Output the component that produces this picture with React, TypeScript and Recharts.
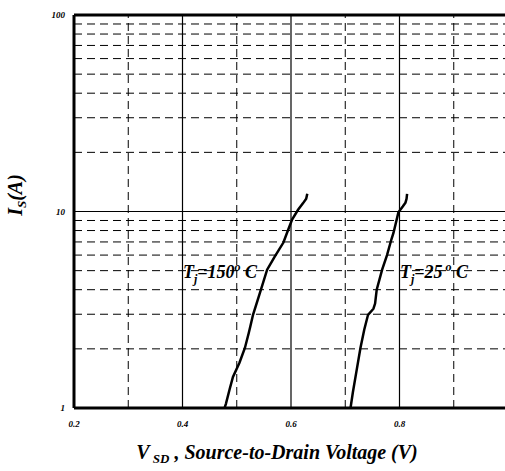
import React from 'react';
import { LineChart, Line, XAxis, YAxis, ReferenceLine } from 'recharts';

// Tj = 150 C curve (V, A)
const hotCurve = [
    { v: 0.476, i: 0.97 },
    { v: 0.48, i: 1.05 },
    { v: 0.487, i: 1.25 },
    { v: 0.493, i: 1.44 },
    { v: 0.505, i: 1.7 },
    { v: 0.515, i: 2.02 },
    { v: 0.522, i: 2.4 },
    { v: 0.525, i: 2.6 },
    { v: 0.53, i: 2.98 },
    { v: 0.542, i: 3.8 },
    { v: 0.556, i: 5.06 },
    { v: 0.57, i: 5.9 },
    { v: 0.586, i: 6.95 },
    { v: 0.595, i: 8.1 },
    { v: 0.602, i: 9.1 },
    { v: 0.613, i: 10.2 },
    { v: 0.622, i: 11.0 },
    { v: 0.628, i: 11.6 },
    { v: 0.63, i: 12.3 },
];

// Tj = 25 C curve (V, A)
const coldCurve = [
    { v: 0.709, i: 0.97 },
    { v: 0.714, i: 1.2 },
    { v: 0.72, i: 1.5 },
    { v: 0.728, i: 2.02 },
    { v: 0.735, i: 2.5 },
    { v: 0.742, i: 2.98 },
    { v: 0.752, i: 3.2 },
    { v: 0.755, i: 3.4 },
    { v: 0.758, i: 4.0 },
    { v: 0.768, i: 5.06 },
    { v: 0.777, i: 6.0 },
    { v: 0.785, i: 7.2 },
    { v: 0.789, i: 7.8 },
    { v: 0.798, i: 9.9 },
    { v: 0.806, i: 10.6 },
    { v: 0.811, i: 11.1 },
    { v: 0.813, i: 11.6 },
    { v: 0.814, i: 12.3 },
];

const xTicks = [0.2, 0.4, 0.6, 0.8];
const yTicks = [1, 10, 100];
const xDashed = [0.3, 0.5, 0.7, 0.9];
const xSolid = [0.4, 0.6, 0.8];
const yDashed = [2, 3, 4, 5, 6, 7, 8, 9, 20, 30, 40, 50, 60, 70, 80, 90];
const ySolid = [10];

const FONT = '"Liberation Serif", "Times New Roman", serif';

const tickStyle = { fontSize: 9, fontWeight: 700, fontStyle: 'italic', fontFamily: FONT, fill: '#000' };

export default function App() {
    return (
        <div style={{ position: 'absolute', left: 0, top: 0, width: 505, height: 471, overflow: 'hidden', background: '#fff' }}>
            <LineChart width={520} height={471} margin={{ top: 15, right: 12, left: 0, bottom: 33 }}>
                <XAxis
                    type="number"
                    dataKey="v"
                    domain={[0.2, 1.0]}
                    ticks={xTicks}
                    tickFormatter={(t: number) => t.toFixed(1)}
                    tick={tickStyle}
                    tickSize={0}
                    tickMargin={13}
                    height={30}
                    axisLine={{ stroke: '#000', strokeWidth: 3 }}
                    allowDataOverflow
                />
                <YAxis
                    type="number"
                    dataKey="i"
                    scale="log"
                    domain={[1, 100]}
                    ticks={yTicks}
                    tick={tickStyle}
                    tickSize={0}
                    tickMargin={9}
                    width={74}
                    axisLine={{ stroke: '#000', strokeWidth: 3 }}
                    allowDataOverflow
                />
                {yDashed.map((y) => (
                    <ReferenceLine key={`yd-${y}`} y={y} stroke="#000" strokeWidth={1} strokeDasharray="8 5" />
                ))}
                {xDashed.map((x) => (
                    <ReferenceLine key={`xd-${x}`} x={x} stroke="#000" strokeWidth={1} strokeDasharray="8 5" />
                ))}
                {ySolid.map((y) => (
                    <ReferenceLine key={`ys-${y}`} y={y} stroke="#000" strokeWidth={1.2} />
                ))}
                {xSolid.map((x) => (
                    <ReferenceLine key={`xs-${x}`} x={x} stroke="#000" strokeWidth={1.2} />
                ))}
                <ReferenceLine y={100} stroke="#000" strokeWidth={3} />
                <Line data={hotCurve} dataKey="i" type="linear" stroke="#000" strokeWidth={2.5} dot={false} isAnimationActive={false} />
                <Line data={coldCurve} dataKey="i" type="linear" stroke="#000" strokeWidth={2.5} dot={false} isAnimationActive={false} />
            </LineChart>
            <svg width={505} height={471} style={{ position: 'absolute', left: 0, top: 0, pointerEvents: 'none' }}>
                <g fontFamily={FONT} fontWeight={700} fontStyle="italic" fill="#000">
                    <text x={183} y={278} fontSize={18}>
                        T<tspan fontSize={12} dy={5}>j</tspan>
                        <tspan dy={-5}>=150</tspan>
                        <tspan fontSize={12} dy={-7}>o</tspan>
                        <tspan dy={7}> C</tspan>
                    </text>
                    <text x={400} y={278} fontSize={18}>
                        T<tspan fontSize={12} dy={5}>j</tspan>
                        <tspan dy={-5}>=25</tspan>
                        <tspan fontSize={12} dy={-7}> o</tspan>
                        <tspan dy={7}> C</tspan>
                    </text>
                    <text x={277} y={459} fontSize={20} textAnchor="middle">
                        V<tspan fontSize={13} dy={4}> SD</tspan>
                        <tspan dy={-4}>  , Source-to-Drain Voltage (V)</tspan>
                    </text>
                    <text x={22} y={195} fontSize={20} textAnchor="middle" transform="rotate(-90 22 195)">
                        I<tspan fontSize={13} dy={4}>S</tspan>
                        <tspan dy={-4}>(A)</tspan>
                    </text>
                </g>
            </svg>
        </div>
    );
}
